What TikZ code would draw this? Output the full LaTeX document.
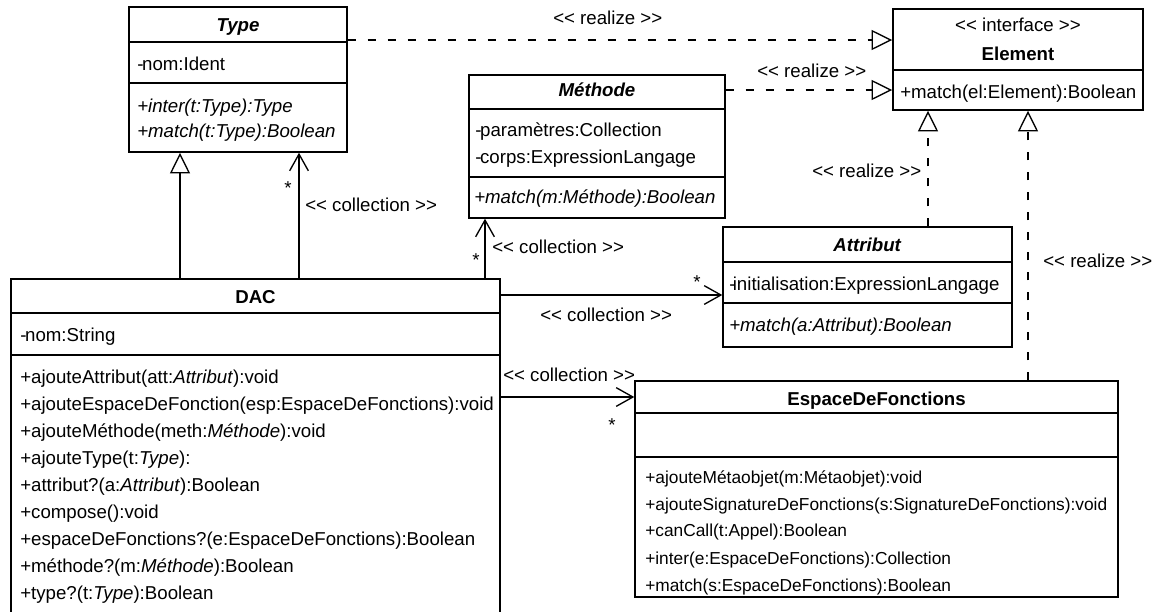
\documentclass[tikz,border=0pt]{standalone}
\usepackage{fontspec}
\setmainfont{Liberation Sans}
\usetikzlibrary{arrows.meta,fit}
\newcommand{\stereoL}{<\kern0pt<}
\newcommand{\stereoR}{>\kern0pt>}

\begin{document}
\begin{tikzpicture}[
    x=0.75pt, y=-0.75pt,
    every node/.style={font=\fontsize{14}{16}\selectfont, inner sep=0pt},
    umlbox/.style={draw, line width=1.1pt, inner sep=0pt},
    sepline/.style={line width=1.1pt},
    umltitle/.style={anchor=base, font=\fontsize{14}{16}\selectfont\bfseries},
    umlrow/.style={anchor=base west},
    smallrow/.style={anchor=base west, font=\fontsize{13}{15}\selectfont},
    stereo/.style={anchor=base west},
    mult/.style={anchor=base},
    inherit/.style={line width=1pt, -{Triangle[open, length=15.5pt, width=15pt]}},
    collection/.style={line width=1pt, -{Straight Barb[length=12.5pt, width=14pt]}},
    realize/.style={line width=1pt, dash pattern=on 6pt off 9pt, -{Triangle[open, length=15.5pt, width=15pt]}}
]
  \path[use as bounding box, fill=white] (0,0) rectangle (1157,611);
  \clip (0,0) rectangle (1157,611);

  % classes
  \node[umlbox, fit={(129,7) (347,152)}] (type) {};
  \draw[sepline] (type.west |- 0,42) -- (type.east |- 0,42);
  \draw[sepline] (type.west |- 0,83) -- (type.east |- 0,83);
  \node[umltitle] (type-t) at (238,31.7) {\textit{Type}};
  \node[umlrow] (type-a1) at (137,70) {-\kern-1pt nom:Ident};
  \node[umlrow] (type-m1) at (137,112) {\textit{+inter(t:Type):Type}};
  \node[umlrow] (type-m2) at (137,137) {\textit{+match(t:Type):Boolean}};

  \node[umlbox, fit={(469,75) (725,218)}] (methode) {};
  \draw[sepline] (methode.west |- 0,109) -- (methode.east |- 0,109);
  \draw[sepline] (methode.west |- 0,177) -- (methode.east |- 0,177);
  \node[umltitle] (methode-t) at (597,96.7) {\textit{Méthode}};
  \node[umlrow] (methode-a1) at (475,136.7) {-\kern-1pt paramètres:Collection};
  \node[umlrow] (methode-a2) at (475,163.3) {-\kern-1pt corps:ExpressionLangage};
  \node[umlrow] (methode-m1) at (474,203.3) {\textit{+match(m:Méthode):Boolean}};

  \node[umlbox, fit={(893,9) (1143,110)}] (element) {};
  \draw[sepline] (element.west |- 0,70) -- (element.east |- 0,70);
  \node[anchor=base] (element-s) at (1018,31.7) {\stereoL{} interface \stereoR};
  \node[umltitle] (element-t) at (1018,60) {Element};
  \node[umlrow] (element-m1) at (900,98.3) {+match(el:Element):Boolean};

  \node[umlbox, fit={(723,227) (1012,347)}] (attribut) {};
  \draw[sepline] (attribut.west |- 0,262) -- (attribut.east |- 0,262);
  \node[umltitle] (attribut-t) at (867.5,251.7) {\textit{Attribut}};
  \draw[sepline] (attribut.west |- 0,303) -- (attribut.east |- 0,303);
  \node[umlrow] (attribut-a1) at (729,290) {-\kern-2pt initialisation:ExpressionLangage};
  \node[umlrow] (attribut-m1) at (729,331.7) {\textit{+match(a:Attribut):Boolean}};

  \node[umlbox, fit={(635,381) (1118,597)}] (espace) {};
  \draw[sepline] (espace.west |- 0,413) -- (espace.east |- 0,413);
  \draw[sepline] (espace.west |- 0,457) -- (espace.east |- 0,457);
  \node[umltitle] (espace-t) at (876.5,405) {EspaceDeFonctions};
  \node[smallrow] (espace-m1) at (645,483.3) {+ajouteMétaobjet(m:Métaobjet):void};
  \node[smallrow] (espace-m2) at (645,510) {+ajouteSignatureDeFonctions(s:SignatureDeFonctions):void};
  \node[smallrow] (espace-m3) at (645,536.7) {+canCall(t:Appel):Boolean};
  \node[smallrow] (espace-m4) at (645,564) {+inter(e:EspaceDeFonctions):Collection};
  \node[smallrow] (espace-m5) at (645,591) {+match(s:EspaceDeFonctions):Boolean};

  \node[umlbox, fit={(11,279) (500,650)}] (dac) {};
  \draw[sepline] (dac.west |- 0,313) -- (dac.east |- 0,313);
  \draw[sepline] (dac.west |- 0,355) -- (dac.east |- 0,355);
  \node[umltitle] (dac-t) at (255.5,303) {DAC};
  \node[umlrow] (dac-a1) at (20,341.7) {-\kern-1pt nom:String};
  \node[umlrow] (dac-m1) at (20,383) {+ajouteAttribut(att:\textit{Attribut}):void};
  \node[umlrow] (dac-m2) at (20,410.1) {+ajouteEspaceDeFonction(esp:EspaceDeFonctions):void};
  \node[umlrow] (dac-m3) at (20,437.2) {+ajouteMéthode(meth:\textit{Méthode}):void};
  \node[umlrow] (dac-m4) at (20,464.3) {+ajouteType(t:\textit{Type}):};
  \node[umlrow] (dac-m5) at (20,491.4) {+attribut?(a:\textit{Attribut}):Boolean};
  \node[umlrow] (dac-m6) at (20,518.5) {+compose():void};
  \node[umlrow] (dac-m7) at (20,545.6) {+espaceDeFonctions?(e:EspaceDeFonctions):Boolean};
  \node[umlrow] (dac-m8) at (20,572.7) {+méthode?(m:\textit{Méthode}):Boolean};
  \node[umlrow] (dac-m9) at (20,599.8) {+type?(t:\textit{Type}):Boolean};

  % realizations
  \coordinate (rType) at (0,40);
  \coordinate (rMeth) at (0,90);
  \coordinate (rAttr) at (928,0);
  \coordinate (rEsp) at (1028,0);
  \draw[realize] (rType -| type.east) -- (rType -| element.west);
  \draw[realize] (rMeth -| methode.east) -- (rMeth -| element.west);
  \draw[realize] (rAttr |- attribut.north) -- (rAttr |- element.south);
  \draw[realize] (rEsp |- espace.north) -- (rEsp |- element.south);
  \node[stereo] (lr1) at (553,24) {\stereoL{} realize \stereoR};
  \node[stereo] (lr2) at (757,77) {\stereoL{} realize \stereoR};
  \node[stereo] (lr3) at (812,177) {\stereoL{} realize \stereoR};
  \node[stereo] (lr4) at (1043,267) {\stereoL{} realize \stereoR};

  % inheritance and collections
  \coordinate (gen) at (180,0);
  \coordinate (cType) at (299,0);
  \coordinate (cMeth) at (485,0);
  \coordinate (cAttr) at (0,295);
  \coordinate (cEsp) at (0,397);
  \draw[inherit] (gen |- dac.north) -- (gen |- type.south);
  \draw[collection] (cType |- dac.north) -- (cType |- type.south);
  \draw[collection] (cMeth |- dac.north) -- (cMeth |- methode.south);
  \draw[collection] (cAttr -| dac.east) -- (cAttr -| attribut.west);
  \draw[collection] (cEsp -| dac.east) -- (cEsp -| espace.west);
  \node[stereo] (lc1) at (305,211.7) {\stereoL{} collection \stereoR};
  \node[stereo] (lc2) at (492,253) {\stereoL{} collection \stereoR};
  \node[stereo] (lc3) at (540,321) {\stereoL{} collection \stereoR};
  \node[stereo] (lc4) at (503,381.7) {\stereoL{} collection \stereoR};
  \node[mult] (s1) at (288,194) {*};
  \node[mult] (s2) at (476,266) {*};
  \node[mult] (s3) at (697,288) {*};
  \node[mult] (s4) at (612,431) {*};
\end{tikzpicture}
\end{document}
